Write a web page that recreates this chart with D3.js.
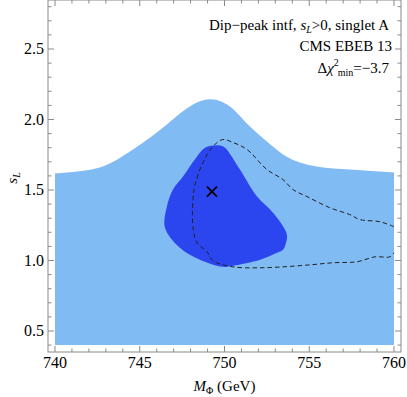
<!DOCTYPE html>
<html>
<head>
<meta charset="utf-8">
<script src="https://cdn.jsdelivr.net/npm/d3@7"></script>
<style>
  body { margin: 0; background: #fff; }
  text { font-family: "Liberation Serif", "DejaVu Serif", serif; }
</style>
</head>
<body>
<svg width="407" height="397"></svg>
<script>
// region data (M in GeV, sL)
const outerTop = [
  [740, 1.617], [740.7, 1.624], [742.65, 1.659], [744.6, 1.787], [746.6, 1.965],
  [747.55, 2.058], [748.55, 2.129], [749.15, 2.143], [750.15, 2.107], [751.5, 1.951],
  [752.5, 1.844], [753.45, 1.752], [755.45, 1.666], [757.4, 1.645], [760, 1.624]
];
const outerBottom = 0.4;

const innerBlob = [
  [748.85, 1.80], [749.73, 1.816], [750.03, 1.80], [750.91, 1.645], [751.92, 1.453],
  [752.86, 1.339], [753.57, 1.218], [753.69, 1.169], [753.45, 1.076], [753.1, 1.055],
  [752.1, 1.005], [750.5, 0.962], [749.9, 0.955], [748.55, 1.005], [747.37, 1.09],
  [746.49, 1.233], [746.6, 1.382], [746.96, 1.503], [747.55, 1.595], [748.38, 1.738]
];

const dashedContour = [
  [760, 1.24], [759.17, 1.275], [757.99, 1.29], [757.4, 1.325], [756.2, 1.375],
  [754.87, 1.453], [754.04, 1.503], [753.45, 1.574], [752.5, 1.645], [751.33, 1.787],
  [750.5, 1.837], [749.9, 1.858], [749.32, 1.809], [748.73, 1.695], [748.26, 1.538],
  [748.14, 1.432], [748.14, 1.233], [748.38, 1.126], [748.97, 1.062], [749.32, 0.998],
  [750.5, 0.955], [751.92, 0.948], [753.45, 0.955], [755.04, 0.969], [756.4, 0.984],
  [757.82, 0.991], [758.88, 1.026], [759.76, 1.026], [760, 1.055]
];

const bestFit = [749.26, 1.489];

const xTicks = [740, 745, 750, 755, 760];
const yTicks = [0.5, 1.0, 1.5, 2.0, 2.5];

const svg = d3.select("svg");
const pLeft = 48, pRight = 401, pTop = 0, pBottom = 352;

const x = d3.scaleLinear().domain([739.587, 760.413]).range([pLeft, pRight]);
const y = d3.scaleLinear().domain([0.351, 2.8475]).range([pBottom, pTop]);

const g = svg.append("g");

// light region
g.append("path")
  .attr("d", d3.area()
    .x(d => x(d[0]))
    .y0(y(outerBottom))
    .y1(d => y(d[1]))
    .curve(d3.curveMonotoneX)(outerTop))
  .attr("fill", "#80bbf4");

// dark region
g.append("path")
  .attr("d", d3.line().x(d => x(d[0])).y(d => y(d[1])).curve(d3.curveCatmullRomClosed)(innerBlob))
  .attr("fill", "#2c46ef");

// dashed contour
g.append("path")
  .attr("d", d3.line().x(d => x(d[0])).y(d => y(d[1])).curve(d3.curveCatmullRom)(dashedContour))
  .attr("fill", "none")
  .attr("stroke", "#222")
  .attr("stroke-width", 1)
  .attr("stroke-dasharray", "4.5,3");

// best fit cross
const cx = x(bestFit[0]), cy = y(bestFit[1]);
g.append("path")
  .attr("d", `M${cx - 5},${cy - 5}L${cx + 5},${cy + 5}M${cx + 5},${cy - 5}L${cx - 5},${cy + 5}`)
  .attr("stroke", "#000")
  .attr("stroke-width", 1.8);

// frame and ticks
const frameColor = "#8a8a8a";
svg.append("rect")
  .attr("x", pLeft).attr("y", pTop)
  .attr("width", pRight - pLeft).attr("height", pBottom - pTop)
  .attr("fill", "none").attr("stroke", frameColor).attr("stroke-width", 1);

const xMinor = d3.range(740, 760.01, 1);
const yMinor = d3.range(0.4, 2.85, 0.1);

const ticks = svg.append("g").attr("stroke", frameColor).attr("stroke-width", 1);
xMinor.forEach(v => {
  const len = Math.round(v) % 5 === 0 ? 6 : 3.5;
  ticks.append("line").attr("x1", x(v)).attr("x2", x(v)).attr("y1", pBottom).attr("y2", pBottom - len);
  ticks.append("line").attr("x1", x(v)).attr("x2", x(v)).attr("y1", pTop).attr("y2", pTop + len);
});
yMinor.forEach(v => {
  const r = Math.round(v * 10);
  const len = r % 5 === 0 ? 6 : 3.5;
  ticks.append("line").attr("x1", pLeft).attr("x2", pLeft + len).attr("y1", y(v)).attr("y2", y(v));
  ticks.append("line").attr("x1", pRight).attr("x2", pRight - len).attr("y1", y(v)).attr("y2", y(v));
});

// tick labels
svg.append("g").selectAll("text").data(xTicks).join("text")
  .attr("x", d => x(d)).attr("y", 368)
  .attr("text-anchor", "middle")
  .attr("font-size", 16)
  .text(d => d);

svg.append("g").selectAll("text").data(yTicks).join("text")
  .attr("x", 44).attr("y", d => y(d) + 5.5)
  .attr("text-anchor", "end")
  .attr("font-size", 16)
  .text(d => d.toFixed(1));

// axis titles
const xt = svg.append("text")
  .attr("x", (pLeft + pRight) / 2).attr("y", 391)
  .attr("text-anchor", "middle").attr("font-size", 15);
xt.append("tspan").attr("font-style", "italic").text("M");
xt.append("tspan").attr("font-size", 10).attr("dy", 3).text("Φ");
xt.append("tspan").attr("dy", -3).text(" (GeV)");

const yt = svg.append("text")
  .attr("transform", `translate(17,${(pTop + pBottom) / 2 + 2}) rotate(-90)`)
  .attr("text-anchor", "middle").attr("font-size", 15);
yt.append("tspan").attr("font-style", "italic").text("s");
yt.append("tspan").attr("font-style", "italic").attr("font-size", 10).attr("dy", 3).text("L");

// annotation
const l1 = svg.append("text").attr("x", 389).attr("y", 30).attr("text-anchor", "end").attr("font-size", 15);
l1.append("tspan").text("Dip−peak intf, ");
l1.append("tspan").attr("font-style", "italic").text("s");
l1.append("tspan").attr("font-style", "italic").attr("font-size", 10).attr("dy", 3).text("L");
l1.append("tspan").attr("dy", -3).text(">0, singlet A");

svg.append("text").attr("x", 392).attr("y", 51).attr("text-anchor", "end").attr("font-size", 15)
  .text("CMS EBEB 13");

const l3 = svg.append("text").attr("x", 389).attr("y", 73).attr("text-anchor", "end").attr("font-size", 15);
l3.append("tspan").text("Δ");
l3.append("tspan").attr("font-style", "italic").text("χ");
l3.append("tspan").attr("font-size", 10).attr("dy", -7).text("2");
l3.append("tspan").attr("font-size", 10).attr("dy", 10).attr("dx", -1).text("min");
l3.append("tspan").attr("dy", -3).text("=−3.7");
</script>
</body>
</html>
